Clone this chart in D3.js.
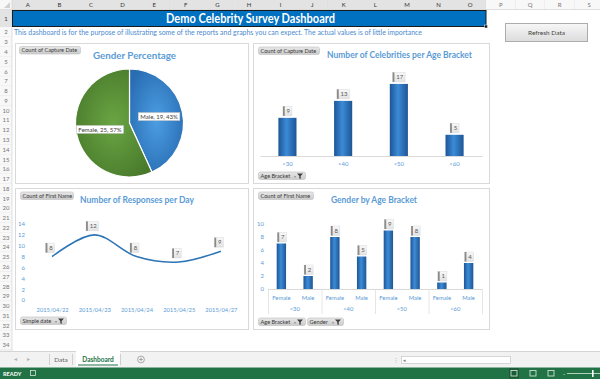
<!DOCTYPE html>
<html><head><meta charset="utf-8">
<script src="https://cdn.jsdelivr.net/npm/d3@7"></script>
<style>
html,body{margin:0;padding:0;background:#fff;overflow:hidden}
svg{display:block;font-family:Lato,"Open Sans",sans-serif}
</style></head><body>
<svg id="c" width="600" height="379"></svg>
<script>
// ---------- DATA ----------
const columnLetters = ["A","B","C","D","E","F","G","H","I","J","K","L","M","N","O","P","Q","R","S"];
const rowNumbers = d3.range(1, 35);
const dashboardTitle = "Demo Celebrity Survey Dashboard";
const dashboardNote = "This dashboard is for the purpose of illustrating some of the reports and graphs you can expect. The actual values is of little importance";

const genderLabels = ["Male", "Female"];
const genderCounts = [19, 25];

const ageBrackets = ["<30", "<40", "<50", "<60"];
const celebCounts = [9, 13, 17, 5];

const responseDates = ["2015/04/22", "2015/04/23", "2015/04/24", "2015/04/25", "2015/04/27"];
const responseCounts = [8, 12, 8, 7, 9];
const responseTicks = [0, 2, 4, 6, 8, 10, 12, 14];

const genders = ["Female", "Male"];
const femaleByAge = [7, 8, 9, 1];
const maleByAge = [2, 5, 8, 4];
const genderAgeTicks = [0, 2, 4, 6, 8, 10];

const sheetTabs = ["Data", "Dashboard"];

// ---------- SETUP ----------
const svg = d3.select("#c");
const defs = svg.append("defs");
const BLUE_TXT = "#5b9bd5";

function linGrad(id, stops, x2, y2) {
  const g = defs.append("linearGradient").attr("id", id)
    .attr("x1", 0).attr("y1", 0).attr("x2", x2).attr("y2", y2);
  stops.forEach(s => g.append("stop").attr("offset", s[0]).attr("stop-color", s[1]));
}
function radGrad(id, stops) {
  const g = defs.append("radialGradient").attr("id", id).attr("cx", "50%").attr("cy", "50%").attr("r", "60%");
  stops.forEach(s => g.append("stop").attr("offset", s[0]).attr("stop-color", s[1]));
}
linGrad("barG", [["0%", "#1d5596"], ["45%", "#3c8bd6"], ["100%", "#1d5596"]], 1, 0);
linGrad("btnG", [["0%", "#e8e8e8"], ["100%", "#cbcbcb"]], 0, 1);
linGrad("refG", [["0%", "#f7f7f7"], ["100%", "#dcdcdc"]], 0, 1);
linGrad("lblG", [["0%", "#f8f8f8"], ["100%", "#e2e2e2"]], 0, 1);
radGrad("maleG", [["0%", "#4c9de2"], ["100%", "#286cb2"]]);
radGrad("femG", [["0%", "#6aa544"], ["100%", "#497a2b"]]);

// ---------- SHEET CHROME ----------
const colBounds = columnLetters.map((l, i) => i < 15
  ? { l, x0: 12 + i * 31.6, w: 31.6, sel: true }
  : { l, x0: 486 + (i - 15) * 29.5, w: 29.5, sel: false });
const rowBounds = rowNumbers.map(r => {
  if (r === 1) return { r, y0: 10, h: 17, sel: true };
  if (r === 2) return { r, y0: 27, h: 10 };
  if (r === 3) return { r, y0: 37, h: 10 };
  return { r, y0: 47 + (r - 4) * 9.77, h: 9.77 };
});

const hdr = svg.append("g");
hdr.append("rect").attr("x", 0).attr("y", 0).attr("width", 600).attr("height", 9.5).attr("fill", "#f8f8f8");
hdr.append("rect").attr("x", 0).attr("y", 0).attr("width", 12).attr("height", 351).attr("fill", "#f8f8f8");
colBounds.forEach(c => {
  hdr.append("rect").attr("x", c.x0).attr("y", 0).attr("width", c.w).attr("height", 9.5)
    .attr("fill", c.sel ? "#e3e3e3" : "#f8f8f8");
  hdr.append("line").attr("x1", c.x0 + c.w).attr("x2", c.x0 + c.w).attr("y1", 0).attr("y2", 9.5).attr("stroke", "#d8d8d8").attr("stroke-width", 0.6);
  hdr.append("text").attr("x", c.x0 + c.w / 2).attr("y", 7).attr("text-anchor", "middle")
    .attr("font-size", 6).attr("fill", c.sel ? "#333" : "#777").text(c.l);
});
hdr.append("line").attr("x1", 0).attr("x2", 600).attr("y1", 9.5).attr("y2", 9.5).attr("stroke", "#cfcfcf").attr("stroke-width", 0.6);
rowBounds.forEach(b => {
  hdr.append("rect").attr("x", 0).attr("y", b.y0).attr("width", 12).attr("height", b.h).attr("fill", b.sel ? "#e3e3e3" : "#f8f8f8");
  hdr.append("line").attr("x1", 0).attr("x2", 12).attr("y1", b.y0 + b.h).attr("y2", b.y0 + b.h).attr("stroke", "#e0e0e0").attr("stroke-width", 0.6);
  hdr.append("text").attr("x", 6).attr("y", b.y0 + b.h / 2 + 2.2).attr("text-anchor", "middle")
    .attr("font-size", 6).attr("fill", b.sel ? "#333" : "#777").text(b.r);
});
hdr.append("line").attr("x1", 12).attr("x2", 12).attr("y1", 0).attr("y2", 351).attr("stroke", "#cfcfcf").attr("stroke-width", 0.6);
hdr.append("path").attr("d", "M10,2 L10,8 L4,8 Z").attr("fill", "#d0d0d0");

// title bar
svg.append("rect").attr("x", 12.5).attr("y", 10.5).attr("width", 473.5).attr("height", 16).attr("fill", "#0070c0")
  .attr("stroke", "#1a1a1a").attr("stroke-width", 1);
svg.append("rect").attr("x", 484.5).attr("y", 25).attr("width", 3).attr("height", 3).attr("fill", "#1a1a1a").attr("stroke", "#fff").attr("stroke-width", 0.5);
svg.append("text").attr("x", 250.5).attr("y", 22.6).attr("text-anchor", "middle").attr("font-size", 12.5)
  .attr("font-weight", "bold").attr("fill", "#fff").attr("textLength", 169).attr("lengthAdjust", "spacingAndGlyphs").text(dashboardTitle);
svg.append("text").attr("x", 14).attr("y", 34.6).attr("font-size", 7).attr("fill", "#4a8ad0")
  .attr("textLength", 408).attr("lengthAdjust", "spacingAndGlyphs").text(dashboardNote);

// refresh button
svg.append("rect").attr("x", 505.5).attr("y", 23.5).attr("width", 82).attr("height", 18).attr("fill", "url(#refG)").attr("stroke", "#acacac");
svg.append("text").attr("x", 546.5).attr("y", 34.7).attr("text-anchor", "middle").attr("font-size", 6.5).attr("fill", "#444").text("Refresh Data");

// ---------- HELPERS ----------
function panel(x, y, w, h) {
  svg.append("rect").attr("x", x + 0.5).attr("y", y + 0.5).attr("width", w).attr("height", h)
    .attr("fill", "#fff").attr("stroke", "#d9d9d9").attr("stroke-width", 1);
}
function chartTitle(cx, y, txt, len) {
  svg.append("text").attr("x", cx).attr("y", y).attr("text-anchor", "middle").attr("font-size", 10.3)
    .attr("font-weight", "bold").attr("fill", BLUE_TXT).attr("textLength", len).attr("lengthAdjust", "spacingAndGlyphs").text(txt);
}
function fieldButton(x, y, w, txt, filter) {
  const g = svg.append("g").attr("transform", `translate(${x},${y})`);
  g.append("rect").attr("x", 0.5).attr("y", 0.5).attr("width", w).attr("height", 7.5).attr("rx", 1.8)
    .attr("fill", "url(#btnG)").attr("stroke", "#bdbdbd").attr("stroke-width", 0.6);
  g.append("text").attr("x", 2.5).attr("y", 6.2).attr("font-size", 5.6).attr("fill", "#3a3a3a").text(txt);
  if (filter) {
    g.append("path").attr("d", `M${w - 8},2 h6 l-2.3,2.6 v3 l-1.4,-0.8 v-2.2 z`).attr("fill", "#404040");
    g.append("rect").attr("x", w - 10.5).attr("y", 4.8).attr("width", 1).attr("height", 1).attr("fill", "#404040");
  }
}
function callout(cx, bottom, txt) {
  const g = svg.append("g");
  const t = g.append("text").attr("font-size", 6).attr("fill", "#5a5a5a").text(txt);
  const tw = t.node().getComputedTextLength();
  const w = tw + 5.5, h = 9.5;
  const x0 = cx - w / 2;
  g.insert("rect", "text").attr("x", x0).attr("y", bottom - h).attr("width", w).attr("height", h)
    .attr("fill", "url(#lblG)").attr("stroke", "#dadada").attr("stroke-width", 0.5);
  g.insert("rect", "text").attr("x", x0).attr("y", bottom - h).attr("width", 1.8).attr("height", h).attr("fill", "#8a8a8a");
  t.attr("x", x0 + 1.8 + (w - 1.8) / 2).attr("y", bottom - 2.8).attr("text-anchor", "middle");
}

// ---------- PANEL 1: PIE ----------
panel(15, 43, 233, 140);
fieldButton(19, 46, 61, "Count of Capture Date", false);
chartTitle(134.5, 58.5, "Gender Percentage", 83);
const total = d3.sum(genderCounts);
const pieData = d3.pie().sort(null).value(d => d.v)(genderLabels.map((g, i) => ({ g, v: genderCounts[i] })));
const pieR = 54;
const arc = d3.arc().innerRadius(0).outerRadius(pieR);
const lblArc = d3.arc().innerRadius(pieR * 0.56).outerRadius(pieR * 0.56);
const pg = svg.append("g").attr("transform", "translate(129.5,123)");
pg.selectAll("path").data(pieData).join("path").attr("d", arc)
  .attr("fill", d => d.data.g === "Male" ? "url(#maleG)" : "url(#femG)")
  .attr("stroke", "#fff").attr("stroke-width", 1.2);
pieData.forEach(d => {
  const [lx, ly] = lblArc.centroid(d);
  const txt = `${d.data.g}, ${d.data.v}, ${Math.round(d.data.v / total * 100)}%`;
  const g = pg.append("g");
  const t = g.append("text").attr("font-size", 6).attr("fill", "#404040").attr("text-anchor", "middle")
    .attr("x", lx).attr("y", ly + 2.1).text(txt);
  const tw = t.node().getComputedTextLength();
  g.insert("rect", "text").attr("x", lx - tw / 2 - 2).attr("y", ly - 4).attr("width", tw + 4).attr("height", 8)
    .attr("fill", "#fff").attr("stroke", "#bfbfbf").attr("stroke-width", 0.5);
});

// ---------- PANEL 2: BAR ----------
panel(253, 43, 236, 140);
fieldButton(258, 46.5, 61, "Count of Capture Date", false);
chartTitle(399.5, 57.5, "Number of Celebrities per Age Bracket", 145);
const x2 = d3.scaleBand().domain(ageBrackets).range([260, 482]).paddingInner(0.675).paddingOuter(0.33);
const y2 = d3.scaleLinear().domain([0, 20]).range([156, 71.2]);
svg.append("g").selectAll("rect").data(ageBrackets).join("rect")
  .attr("x", d => x2(d)).attr("width", x2.bandwidth())
  .attr("y", (d, i) => y2(celebCounts[i])).attr("height", (d, i) => y2(0) - y2(celebCounts[i]))
  .attr("fill", "url(#barG)");
const ax2 = svg.append("g").attr("transform", `translate(0,${y2(0)})`).call(d3.axisBottom(x2).tickSize(0).tickPadding(6));
ax2.select(".domain").attr("stroke", "#d9d9d9");
ax2.selectAll("text").attr("font-size", 6).attr("fill", BLUE_TXT).attr("font-family", "Lato");
ageBrackets.forEach((d, i) => callout(x2(d) + x2.bandwidth() / 2, y2(celebCounts[i]) - 2, celebCounts[i]));
fieldButton(258, 171.5, 47, "Age Bracket", true);

// ---------- PANEL 3: LINE ----------
panel(15, 188, 233, 141);
fieldButton(20, 191.5, 53, "Count of First Name", false);
chartTitle(137, 202.5, "Number of Responses per Day", 114);
const x3 = d3.scalePoint().domain(responseDates).range([31, 242]).padding(0.5);
const y3 = d3.scaleLinear().domain([0, 14]).range([300, 224]);
const ay3 = svg.append("g").attr("transform", "translate(26,0)").call(d3.axisLeft(y3).tickValues(responseTicks).tickSize(0).tickPadding(1));
ay3.select(".domain").remove();
ay3.selectAll("text").attr("font-size", 6).attr("fill", BLUE_TXT).attr("font-family", "Lato");
const ax3 = svg.append("g").attr("transform", "translate(0,302)").call(d3.axisBottom(x3).tickSize(0).tickPadding(6));
ax3.select(".domain").remove();
ax3.selectAll("text").attr("font-size", 5.8).attr("fill", BLUE_TXT).attr("font-family", "Lato");
const linePts = responseDates.map((d, i) => [x3(d), y3(responseCounts[i])]);
svg.append("path").attr("d", d3.line().curve(d3.curveCatmullRom.alpha(0.5))(linePts))
  .attr("fill", "none").attr("stroke", "#2e75b6").attr("stroke-width", 1.6);
linePts.forEach((p, i) => callout(p[0] - 2, p[1] - 4, responseCounts[i]));
fieldButton(20, 316.5, 46, "Simple date", true);

// ---------- PANEL 4: GROUPED BAR ----------
panel(253, 188, 236, 141);
fieldButton(258, 191.5, 55, "Count of First Name", false);
chartTitle(374, 203, "Gender by Age Bracket", 86);
const x4 = d3.scaleBand().domain(ageBrackets).range([268, 482]).padding(0);
const x4i = d3.scaleBand().domain(genders).range([0, x4.bandwidth()]).paddingInner(0.65).paddingOuter(0.325);
const y4 = d3.scaleLinear().domain([0, 10]).range([289, 224]);
const ay4 = svg.append("g").attr("transform", "translate(265,0)").call(d3.axisLeft(y4).tickValues(genderAgeTicks).tickSize(0).tickPadding(1));
ay4.select(".domain").remove();
ay4.selectAll("text").attr("font-size", 6).attr("fill", BLUE_TXT).attr("font-family", "Lato");
const grouped = ageBrackets.map((a, i) => ({ a, vals: [{ g: "Female", v: femaleByAge[i] }, { g: "Male", v: maleByAge[i] }] }));
const gg = svg.append("g").selectAll("g").data(grouped).join("g").attr("transform", d => `translate(${x4(d.a)},0)`);
gg.selectAll("rect").data(d => d.vals).join("rect")
  .attr("x", d => x4i(d.g)).attr("width", x4i.bandwidth())
  .attr("y", d => y4(d.v)).attr("height", d => y4(0) - y4(d.v)).attr("fill", "url(#barG)");
svg.append("line").attr("x1", 268).attr("x2", 482).attr("y1", y4(0) + 0.5).attr("y2", y4(0) + 0.5).attr("stroke", "#d9d9d9");
ageBrackets.forEach(a => {
  const ga = svg.append("g").attr("transform", `translate(${x4(a)},${y4(0)})`).call(d3.axisBottom(x4i).tickSize(0).tickPadding(7));
  ga.select(".domain").remove();
  ga.selectAll("text").attr("font-size", 5.8).attr("fill", BLUE_TXT).attr("font-family", "Lato");
});
const ax4 = svg.append("g").attr("transform", `translate(0,${y4(0) + 12})`).call(d3.axisBottom(x4).tickSize(0).tickPadding(6));
ax4.select(".domain").remove();
ax4.selectAll("text").attr("font-size", 5.8).attr("fill", BLUE_TXT).attr("font-family", "Lato");
[...ageBrackets.map(a => x4(a)), x4.range()[1]].forEach(xx => {
  svg.append("line").attr("x1", xx + 0.5).attr("x2", xx + 0.5).attr("y1", y4(0)).attr("y2", y4(0) + 25).attr("stroke", "#dedede").attr("stroke-width", 0.8);
});
grouped.forEach(d => d.vals.forEach(v => callout(x4(d.a) + x4i(v.g) + x4i.bandwidth() / 2 + 0.5, y4(v.v) - 1.5, v.v)));
fieldButton(258, 317.5, 47, "Age Bracket", true);
fieldButton(307, 317.5, 36, "Gender", true);

// ---------- TABS + STATUS BAR ----------
svg.append("rect").attr("x", 0).attr("y", 351).attr("width", 600).attr("height", 16.5).attr("fill", "#f2f2f2");
svg.append("line").attr("x1", 0).attr("x2", 600).attr("y1", 351.5).attr("y2", 351.5).attr("stroke", "#d4d4d4");
svg.append("text").attr("x", 15).attr("y", 361).attr("font-size", 6).attr("fill", "#b0b0b0").attr("text-anchor", "middle").text("◂");
svg.append("text").attr("x", 28).attr("y", 361).attr("font-size", 6).attr("fill", "#b0b0b0").attr("text-anchor", "middle").text("▸");
svg.append("line").attr("x1", 49.5).attr("x2", 49.5).attr("y1", 354).attr("y2", 365).attr("stroke", "#cfcfcf");
svg.append("text").attr("x", 61).attr("y", 362).attr("font-size", 6.5).attr("fill", "#666").attr("text-anchor", "middle").text(sheetTabs[0]);
svg.append("line").attr("x1", 72.5).attr("x2", 72.5).attr("y1", 354).attr("y2", 365).attr("stroke", "#cfcfcf");
svg.append("rect").attr("x", 76).attr("y", 351).attr("width", 44).attr("height", 15).attr("fill", "#fff");
svg.append("line").attr("x1", 78).attr("x2", 118).attr("y1", 365).attr("y2", 365).attr("stroke", "#217346").attr("stroke-width", 1.2);
svg.append("text").attr("x", 98).attr("y", 362).attr("font-size", 6.5).attr("font-weight", "bold").attr("fill", "#217346").attr("text-anchor", "middle").text(sheetTabs[1]);
svg.append("line").attr("x1", 120.5).attr("x2", 120.5).attr("y1", 354).attr("y2", 365).attr("stroke", "#cfcfcf");
svg.append("circle").attr("cx", 141).attr("cy", 359.5).attr("r", 3.4).attr("fill", "none").attr("stroke", "#8a8a8a").attr("stroke-width", 0.7);
svg.append("path").attr("d", "M139.2,359.5 h3.6 M141,357.7 v3.6").attr("stroke", "#8a8a8a").attr("stroke-width", 0.7);
svg.append("text").attr("x", 393).attr("y", 362).attr("font-size", 6).attr("fill", "#b0b0b0").text("⋮");
svg.append("rect").attr("x", 401.5).attr("y", 356.5).attr("width", 109).attr("height", 7).attr("fill", "#fff").attr("stroke", "#c8c8c8").attr("stroke-width", 0.7);
svg.append("text").attr("x", 403).attr("y", 362).attr("font-size", 5).attr("fill", "#777").text("◂");

svg.append("rect").attr("x", 0).attr("y", 367.5).attr("width", 600).attr("height", 11.5).attr("fill", "#217346");
svg.append("text").attr("x", 3).attr("y", 376).attr("font-size", 5.6).attr("font-weight", "bold").attr("fill", "#fff").text("READY");
svg.append("rect").attr("x", 30.5).attr("y", 370.5).attr("width", 5).attr("height", 5).attr("fill", "none").attr("stroke", "#cfe3d6").attr("stroke-width", 0.8);
svg.append("rect").attr("x", 509).attr("y", 368).attr("width", 10).attr("height", 10.5).attr("fill", "#1a5c38");
[514, 533, 551].forEach((xx, i) => {
  svg.append("rect").attr("x", xx - 3).attr("y", 370.5).attr("width", 6).attr("height", 5.5).attr("fill", "none").attr("stroke", "#dbeadf").attr("stroke-width", 0.8);
});
svg.append("text").attr("x", 563).attr("y", 376).attr("font-size", 6).attr("fill", "#fff").text("-");
svg.append("line").attr("x1", 567).attr("x2", 600).attr("y1", 373.5).attr("y2", 373.5).attr("stroke", "#dbeadf").attr("stroke-width", 0.8);
svg.append("rect").attr("x", 592).attr("y", 370).attr("width", 1.6).attr("height", 7).attr("fill", "#fff");
</script>
</body></html>
